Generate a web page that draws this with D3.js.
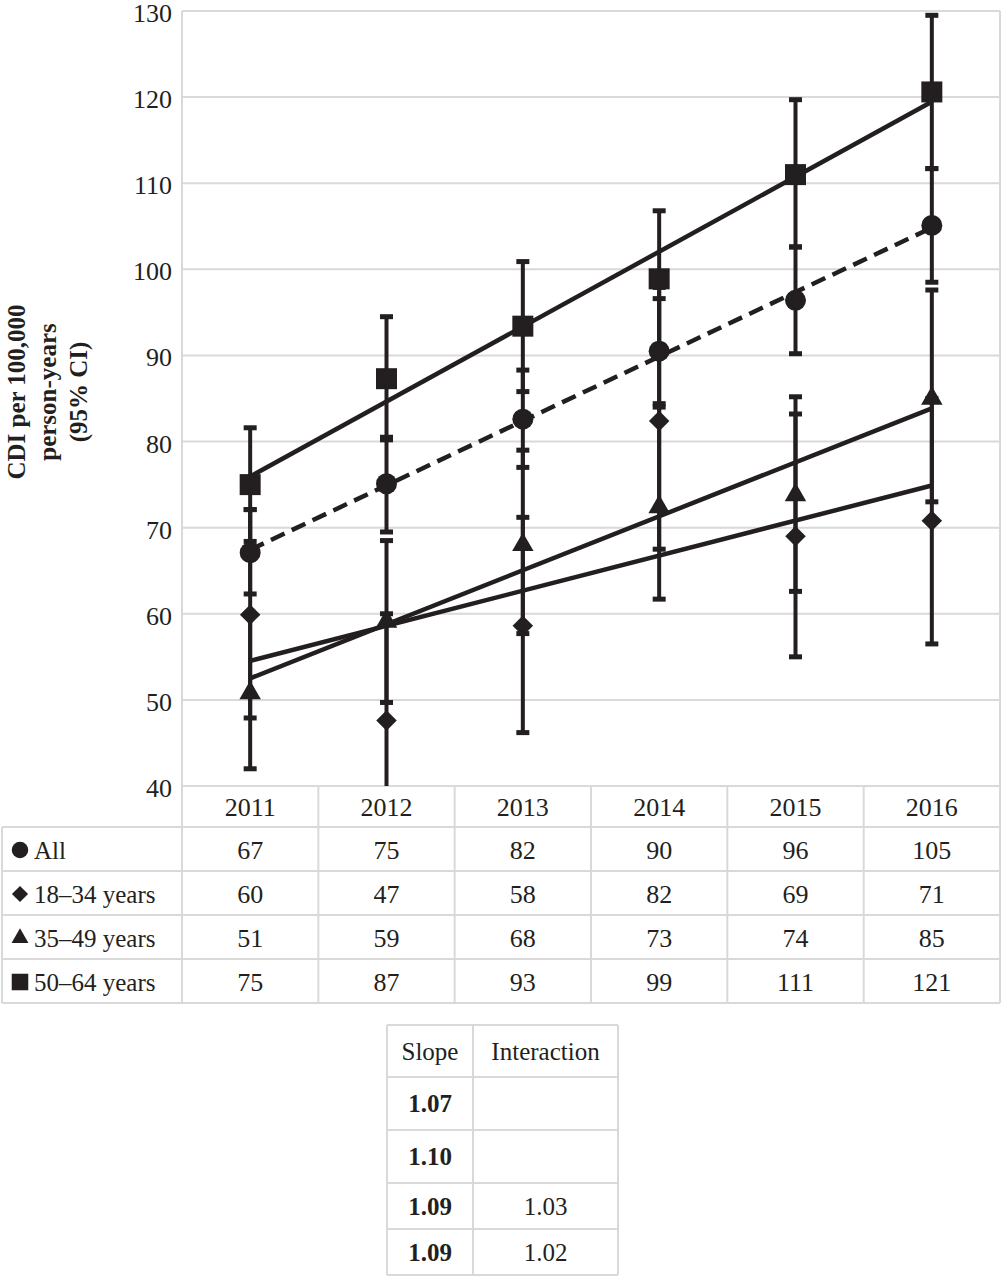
<!DOCTYPE html>
<html>
<head>
<meta charset="utf-8">
<script src="https://cdn.jsdelivr.net/npm/d3@7"></script>
<style>
  body { margin: 0; background: #fff; }
  svg { display: block; font-family: "Liberation Serif", "Times New Roman", serif; }
</style>
</head>
<body>
<script>
// Chart values
const years = ["2011", "2012", "2013", "2014", "2015", "2016"];
const seriesNames = ["All", "18–34 years", "35–49 years", "50–64 years"];

const allRate = [67.1, 75.1, 82.6, 90.5, 96.4, 105.1];
const allLow = [62.3, 69.5, 77.0, 84.4, 90.2, 98.5];
const allHigh = [72.1, 80.5, 88.3, 96.6, 102.6, 111.7];

const age1834Rate = [59.9, 47.6, 58.6, 82.4, 69.0, 70.8];
const age1834Low = [47.9, 35.0, 46.2, 67.5, 55.0, 56.5];
const age1834High = [72.1, 60.0, 71.2, 97.9, 83.2, 85.0];

const age3549Rate = [50.8, 59.1, 68.0, 72.4, 73.8, 85.0];
const age3549Low = [42.0, 49.7, 57.7, 61.7, 62.6, 73.0];
const age3549High = [60.0, 68.5, 79.0, 84.0, 85.2, 97.6];

const age5064Rate = [75.0, 87.3, 93.4, 98.9, 111.0, 120.6];
const age5064Low = [68.4, 80.2, 85.8, 91.2, 102.6, 111.7];
const age5064High = [81.6, 94.5, 100.9, 106.8, 119.7, 129.5];

// numbers printed in the data table
const tableAll = ["67", "75", "82", "90", "96", "105"];
const table1834 = ["60", "47", "58", "82", "69", "71"];
const table3549 = ["51", "59", "68", "73", "74", "85"];
const table5064 = ["75", "87", "93", "99", "111", "121"];

const yTicks = [40, 50, 60, 70, 80, 90, 100, 110, 120, 130];

const slopeHeader = ["Slope", "Interaction"];
const slopes = ["1.07", "1.10", "1.09", "1.09"];
const interactions = ["", "", "1.03", "1.02"];

// Build series
const ink = "#231f20";
const grid = "#d9d9d9";
const series = [
    { name: seriesNames[0], rate: allRate, low: allLow, high: allHigh, table: tableAll, symbol: "circle", dashed: true },
    { name: seriesNames[1], rate: age1834Rate, low: age1834Low, high: age1834High, table: table1834, symbol: "diamond" },
    { name: seriesNames[2], rate: age3549Rate, low: age3549Low, high: age3549High, table: table3549, symbol: "triangle" },
    { name: seriesNames[3], rate: age5064Rate, low: age5064Low, high: age5064High, table: table5064, symbol: "square" },
];

const width = 1005, height = 1279;
const plot = { left: 182, right: 1000, top: 11, bottom: 786 };

const svg = d3.select("body").append("svg")
    .attr("width", width)
    .attr("height", height)
    .attr("viewBox", [0, 0, width, height]);

const x = d3.scaleBand()
    .domain(years)
    .range([plot.left, plot.right]);

const y = d3.scaleLinear()
    .domain([40, 130])
    .range([plot.bottom, plot.top]);

const cx = d => x(d) + x.bandwidth() / 2;

function symbolPath(type, scale = 1) {
    if (type === "circle") return d3.symbol(d3.symbolCircle, 346 * scale)();
    if (type === "square") return d3.symbol(d3.symbolSquare, 441 * scale)();
    if (type === "triangle") return d3.symbol(d3.symbolTriangle, 200 * scale)();
    return d3.symbol(d3.symbolSquare, 210 * scale)(); // rotated below -> diamond
}

function drawSymbol(sel, type, px, py, scale = 1) {
    sel.append("path")
        .attr("d", symbolPath(type, scale))
        .attr("transform", `translate(${px},${py})` + (type === "diamond" ? " rotate(45)" : ""))
        .attr("fill", ink);
}

// Gridlines
svg.append("g")
    .selectAll("line")
    .data(yTicks)
    .join("line")
    .attr("x1", plot.left)
    .attr("x2", plot.right)
    .attr("y1", d => y(d))
    .attr("y2", d => y(d))
    .attr("stroke", grid)
    .attr("stroke-width", 2);

svg.append("g")
    .selectAll("line")
    .data([plot.left, plot.right])
    .join("line")
    .attr("x1", d => d)
    .attr("x2", d => d)
    .attr("y1", plot.top)
    .attr("y2", plot.bottom)
    .attr("stroke", grid)
    .attr("stroke-width", 2);

// Y tick labels
svg.append("g")
    .selectAll("text")
    .data(yTicks)
    .join("text")
    .attr("x", 172)
    .attr("y", d => y(d) + 2.5)
    .attr("text-anchor", "end")
    .attr("dominant-baseline", "central")
    .style("font-size", "26px")
    .style("fill", ink)
    .text(d => d);

// Y title
svg.append("text")
    .attr("transform", "translate(0,392) rotate(-90)")
    .attr("text-anchor", "middle")
    .style("font-size", "25px")
    .style("font-weight", "bold")
    .style("fill", ink)
    .selectAll("tspan")
    .data(["CDI per 100,000", "person-years", "(95% CI)"])
    .join("tspan")
    .attr("x", 0)
    .attr("y", (d, i) => 25 + i * 31)
    .text(d => d);

// Clip the marks to the plot area
svg.append("clipPath")
    .attr("id", "plot-clip")
    .append("rect")
    .attr("x", plot.left)
    .attr("y", plot.top - 10)
    .attr("width", plot.right - plot.left)
    .attr("height", plot.bottom - plot.top + 10);

const marks = svg.append("g").attr("clip-path", "url(#plot-clip)");

// Error bars
series.forEach(s => {
    const g = marks.append("g");
    years.forEach((yr, i) => {
        const px = cx(yr);
        g.append("line")
            .attr("x1", px).attr("x2", px)
            .attr("y1", y(s.low[i])).attr("y2", y(s.high[i]))
            .attr("stroke", ink).attr("stroke-width", 4);
        [s.low[i], s.high[i]].forEach(v => {
            g.append("line")
                .attr("x1", px - 6.5).attr("x2", px + 6.5)
                .attr("y1", y(v)).attr("y2", y(v))
                .attr("stroke", ink).attr("stroke-width", 5);
        });
    });
});

// Linear trend lines (least squares fit on the yearly points)
series.forEach(s => {
    const xs = years.map((d, i) => i);
    const mx = d3.mean(xs), my = d3.mean(s.rate);
    const slope = d3.sum(xs, (xi, i) => (xi - mx) * (s.rate[i] - my)) / d3.sum(xs, xi => (xi - mx) ** 2);
    const icpt = my - slope * mx;
    const first = 0, last = years.length - 1;
    marks.append("line")
        .attr("x1", cx(years[first]))
        .attr("y1", y(icpt + slope * first))
        .attr("x2", cx(years[last]))
        .attr("y2", y(icpt + slope * last))
        .attr("stroke", ink)
        .attr("stroke-width", 4.5)
        .attr("stroke-dasharray", s.dashed ? "15,8" : null);
});

// Markers
series.forEach(s => {
    const g = marks.append("g");
    years.forEach((yr, i) => drawSymbol(g, s.symbol, cx(yr), y(s.rate[i])));
});

// Data table under the chart
const rowH = 44;
const tableTop = plot.bottom;
const headerBottom = 827;
const tableBottom = headerBottom + rowH * series.length;
const tbl = svg.append("g");

// horizontal rules
tbl.selectAll(".hrule")
    .data(d3.range(series.length + 1))
    .join("line")
    .attr("x1", 2)
    .attr("x2", plot.right)
    .attr("y1", d => headerBottom + d * rowH)
    .attr("y2", d => headerBottom + d * rowH)
    .attr("stroke", grid)
    .attr("stroke-width", 2);

// vertical rules
const colEdges = years.map(d => x(d)).concat([plot.right]);
tbl.selectAll(".vrule")
    .data(colEdges)
    .join("line")
    .attr("x1", d => d)
    .attr("x2", d => d)
    .attr("y1", tableTop)
    .attr("y2", tableBottom)
    .attr("stroke", grid)
    .attr("stroke-width", 2);

tbl.append("line")
    .attr("x1", 2).attr("x2", 2)
    .attr("y1", headerBottom).attr("y2", tableBottom)
    .attr("stroke", grid).attr("stroke-width", 2);

// header years
tbl.selectAll(".yr")
    .data(years)
    .join("text")
    .attr("x", d => cx(d))
    .attr("y", (tableTop + headerBottom) / 2 + 1)
    .attr("text-anchor", "middle")
    .attr("dominant-baseline", "central")
    .style("font-size", "26px")
    .style("fill", ink)
    .text(d => d);

series.forEach((s, r) => {
    const rowMid = headerBottom + r * rowH + rowH / 2 + 1;
    drawSymbol(tbl, s.symbol, 20, rowMid, 0.62);
    tbl.append("text")
        .attr("x", 34)
        .attr("y", rowMid)
        .attr("dominant-baseline", "central")
        .style("font-size", "25px")
        .style("fill", ink)
        .text(s.name);
    tbl.selectAll(null)
        .data(s.table)
        .join("text")
        .attr("x", (d, i) => cx(years[i]))
        .attr("y", rowMid)
        .attr("text-anchor", "middle")
        .attr("dominant-baseline", "central")
        .style("font-size", "26px")
        .style("fill", ink)
        .text(d => d);
});

// Slope / interaction table
const sx = [387, 473, 618];
const sy = [1025, 1077, 1130, 1183, 1229, 1275];
const st = svg.append("g");

st.selectAll(".sh")
    .data(sy)
    .join("line")
    .attr("x1", sx[0]).attr("x2", sx[2])
    .attr("y1", d => d).attr("y2", d => d)
    .attr("stroke", grid).attr("stroke-width", 2);

st.selectAll(".sv")
    .data(sx)
    .join("line")
    .attr("x1", d => d).attr("x2", d => d)
    .attr("y1", sy[0]).attr("y2", sy[sy.length - 1])
    .attr("stroke", grid).attr("stroke-width", 2);

slopeHeader.forEach((h, c) => {
    st.append("text")
        .attr("x", (sx[c] + sx[c + 1]) / 2)
        .attr("y", (sy[0] + sy[1]) / 2)
        .attr("text-anchor", "middle")
        .attr("dominant-baseline", "central")
        .style("font-size", "25px")
        .style("fill", ink)
        .text(h);
});

slopes.forEach((v, r) => {
    const mid = (sy[r + 1] + sy[r + 2]) / 2;
    st.append("text")
        .attr("x", (sx[0] + sx[1]) / 2)
        .attr("y", mid)
        .attr("text-anchor", "middle")
        .attr("dominant-baseline", "central")
        .style("font-size", "25px")
        .style("font-weight", "bold")
        .style("fill", ink)
        .text(v);
    st.append("text")
        .attr("x", (sx[1] + sx[2]) / 2)
        .attr("y", mid)
        .attr("text-anchor", "middle")
        .attr("dominant-baseline", "central")
        .style("font-size", "25px")
        .style("fill", ink)
        .text(interactions[r]);
});
</script>
</body>
</html>
